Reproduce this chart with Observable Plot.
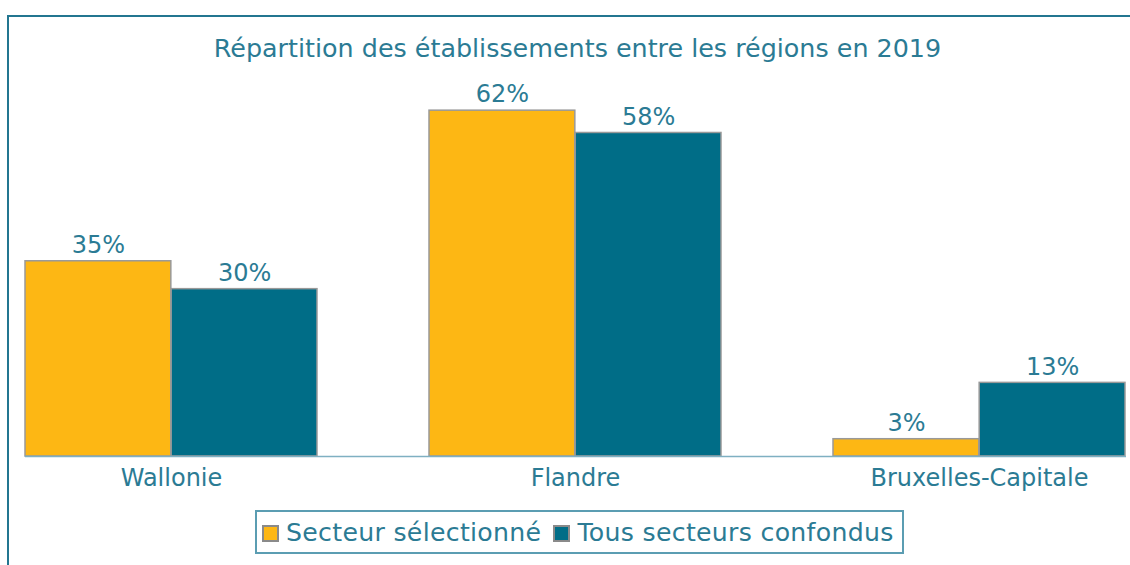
<!DOCTYPE html>
<html>
<head>
<meta charset="utf-8">
<script src="https://cdn.jsdelivr.net/npm/d3@7"></script>
<script src="https://cdn.jsdelivr.net/npm/@observablehq/plot@0.6"></script>
<style>
  html, body { margin: 0; padding: 0; background: #fff; overflow: hidden; width: 1130px; height: 565px; }
  body { font-family: "DejaVu Sans", sans-serif; color: #2b7b94; position: relative; }
  #frame { position: absolute; left: 7px; top: 15px; width: 1300px; height: 700px;
           border-left: 2px solid #237690; border-top: 2px solid #237690; box-sizing: border-box; }
  #title { position: absolute; left: 0; top: 36px; width: 1155px; text-align: center;
           font-size: 25.4px; line-height: 25px; white-space: nowrap; }
  #chart { position: absolute; left: 0; top: 70px; }
  #legend { position: absolute; left: 255px; top: 510px; height: 44px; box-sizing: border-box;
            border: 2px solid #5b9db2; display: flex; align-items: center; padding: 0 8px 0 5px;
            font-size: 25.2px; letter-spacing: 0.3px; white-space: nowrap; }
  .sw { width: 13px; height: 13px; border: 2px solid #8a8a8a; display: inline-block; margin-right: 7px; margin-top: 3px; }
  .item { display: flex; align-items: center; }
  .item + .item { margin-left: 12px; }
</style>
</head>
<body>
<div id="frame"></div>
<div id="title">Répartition des établissements entre les régions en 2019</div>
<div id="chart"></div>
<div id="legend"></div>
<script>
const regions = ["Wallonie", "Flandre", "Bruxelles-Capitale"];
const seriesNames = ["Secteur sélectionné", "Tous secteurs confondus"];
const selectedValues = [35, 62, 3.1];
const allValues = [30, 58, 13.2];
const seriesColors = ["#fdb714", "#006d87"];

const textColor = "#2b7b94";
const W = 1130, H = 430, mL = 25, mR = 4, mB = 44;
const padInner = 0.277;

const selected = regions.map((r, i) => ({region: r, series: seriesNames[0], value: selectedValues[i]}));
const all = regions.map((r, i) => ({region: r, series: seriesNames[1], value: allValues[i]}));

const bw = d3.scaleBand().domain(regions).range([mL, W - mR]).paddingInner(padInner).paddingOuter(0).bandwidth();
const half = bw / 2;

const chart = Plot.plot({
  width: W,
  height: H,
  marginLeft: mL,
  marginRight: mR,
  marginTop: 0,
  marginBottom: mB,
  style: {fontFamily: "DejaVu Sans, sans-serif", fontSize: "24px", color: textColor, background: "transparent"},
  x: {domain: regions, paddingInner: padInner, paddingOuter: 0, label: null},
  y: {domain: [0, 69.2], axis: null},
  marks: [
    Plot.barY(selected, {x: "region", y: "value", fill: seriesColors[0], stroke: "#999", strokeWidth: 1.5, insetRight: half}),
    Plot.barY(all, {x: "region", y: "value", fill: seriesColors[1], stroke: "#999", strokeWidth: 1.5, insetLeft: half}),
    Plot.ruleY([0], {stroke: "#7fb0c2", strokeWidth: 1.5}),
    Plot.text(selected, {x: "region", y: "value", text: d => Math.round(d.value) + "%", dx: -half / 2, dy: -16, fill: textColor, fontSize: 24}),
    Plot.text(all, {x: "region", y: "value", text: d => Math.round(d.value) + "%", dx: half / 2, dy: -16, fill: textColor, fontSize: 24}),
    Plot.axisX({tickSize: 0, tickPadding: 12, fontSize: 24, fill: textColor, label: null})
  ]
});
document.getElementById("chart").appendChild(chart);

const legend = document.getElementById("legend");
seriesNames.forEach((name, i) => {
  const item = document.createElement("div");
  item.className = "item";
  const sw = document.createElement("span");
  sw.className = "sw";
  sw.style.background = seriesColors[i];
  item.appendChild(sw);
  const t = document.createElement("span");
  t.textContent = name;
  item.appendChild(t);
  legend.appendChild(item);
});
</script>
</body>
</html>
